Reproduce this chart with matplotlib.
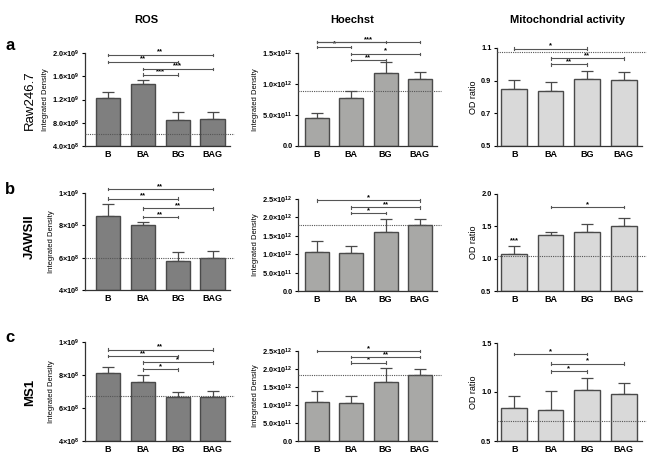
import matplotlib.pyplot as plt
from matplotlib.transforms import blended_transform_factory

plt.rcParams['font.family'] = 'Liberation Sans'
plt.rcParams['font.weight'] = 'bold'
plt.rcParams['mathtext.fontset'] = 'custom'
plt.rcParams['mathtext.rm'] = 'Liberation Sans:bold'
plt.rcParams['mathtext.it'] = 'Liberation Sans:bold'
plt.rcParams['mathtext.bf'] = 'Liberation Sans:bold'

groups = ['B', 'BA', 'BG', 'BAG']
cells = ['Raw246.7', 'JAWSII', 'MS1']
letters = ['a', 'b', 'c']
assays = ['ROS', 'Hoechst', 'Mitochondrial activity']

# means and (upper) error, one row per cell line
ros_mean = [[1.22e9, 1.47e9, 0.85e9, 0.87e9],
            [8.56e8, 8.0e8, 5.8e8, 6.0e8],
            [8.14e8, 7.6e8, 6.64e8, 6.64e8]]
ros_err = [[0.11e9, 0.07e9, 0.13e9, 0.12e9],
           [0.76e8, 0.2e8, 0.53e8, 0.41e8],
           [0.36e8, 0.4e8, 0.36e8, 0.38e8]]
hoe_mean = [[0.45e12, 0.77e12, 1.18e12, 1.075e12],
            [1.07e12, 1.02e12, 1.59e12, 1.79e12],
            [1.09e12, 1.05e12, 1.65e12, 1.83e12]]
hoe_err = [[0.08e12, 0.11e12, 0.17e12, 0.115e12],
           [0.28e12, 0.19e12, 0.37e12, 0.17e12],
           [0.30e12, 0.19e12, 0.37e12, 0.18e12]]
mito_mean = [[0.85, 0.836, 0.908, 0.902],
             [1.07, 1.36, 1.41, 1.50],
             [0.84, 0.82, 1.024, 0.983]]
mito_err = [[0.054, 0.054, 0.052, 0.053],
            [0.12, 0.05, 0.13, 0.13],
            [0.115, 0.19, 0.123, 0.113]]

# dotted reference level
ros_ref = [0.61e9, 6.0e8, 6.74e8]
hoe_ref = [0.89e12, 1.79e12, 1.83e12]
mito_ref = [1.075, 1.04, 0.70]

# significance brackets: (from, to, height, stars)
ros_sig = [[(0, 3, 1.97e9, '**'), (0, 2, 1.85e9, '**'), (1, 3, 1.73e9, '***'), (1, 2, 1.63e9, '***')],
           [(0, 3, 1.025e9, '**'), (0, 2, 9.65e8, '**'), (1, 3, 9.05e8, '**'), (1, 2, 8.5e8, '**')],
           [(0, 3, 9.54e8, '**'), (0, 2, 9.16e8, '**'), (1, 3, 8.76e8, '*'), (1, 2, 8.34e8, '*')]]
hoe_sig = [[(0, 3, 1.68e12, '***'), (0, 2, 1.68e12, ''), (0, 1, 1.60e12, '*'), (1, 3, 1.49e12, '*'), (1, 2, 1.39e12, '**')],
           [(0, 3, 2.46e12, '*'), (1, 3, 2.27e12, '**'), (1, 2, 2.11e12, '*')],
           [(0, 3, 2.5e12, '*'), (1, 3, 2.33e12, '**'), (1, 2, 2.18e12, '*')]]
mito_sig = [[(0, 2, 1.096, '*'), (1, 3, 1.036, '**'), (1, 2, 0.999, '**')],
            [(1, 3, 1.80, '*')],
            [(0, 2, 1.39, '*'), (1, 3, 1.29, '*'), (1, 2, 1.21, '*')]]
mito_star_b = '***'   # over B in JAWSII

ros_ticks = [[4e8, 8e8, 1.2e9, 1.6e9, 2.0e9], [4e8, 6e8, 8e8, 1e9], [4e8, 6e8, 8e8, 1e9]]
ros_labels = [[r'$4.0{\times}10^8$', r'$8.0{\times}10^8$', r'$1.2{\times}10^9$', r'$1.6{\times}10^9$', r'$2.0{\times}10^9$'],
              [r'$4{\times}10^8$', r'$6{\times}10^8$', r'$8{\times}10^8$', r'$1{\times}10^9$'],
              [r'$4{\times}10^8$', r'$6{\times}10^8$', r'$8{\times}10^8$', r'$1{\times}10^9$']]
hoe_ticks = [[0, 5e11, 1e12, 1.5e12], [0, 5e11, 1e12, 1.5e12, 2e12, 2.5e12], [0, 5e11, 1e12, 1.5e12, 2e12, 2.5e12]]
hoe_lab_all = ['0.0', r'$5.0{\times}10^{11}$', r'$1.0{\times}10^{12}$', r'$1.5{\times}10^{12}$',
               r'$2.0{\times}10^{12}$', r'$2.5{\times}10^{12}$']
mito_ticks = [[0.5, 0.7, 0.9, 1.1], [0.5, 1.0, 1.5, 2.0], [0.5, 1.0, 1.5]]

colors = ['#7f7f7f', '#a8a8a6', '#d9d9d9']
edge = '#4a4a4a'

W, H = 654, 458
fig = plt.figure(figsize=(W / 100, H / 100), dpi=100)

# panel boxes in pixels: (left, right, top, bottom)
cols_x = [(85, 230), (298, 437), (497, 642)]
rows_y = [[(53, 146), (53, 146), (48, 146)],
          [(193, 290), (199, 291), (194, 291)],
          [(342, 441), (351, 441), (343, 441)]]
x_off = [0.66, 0.55, 0.47]


def box(l, r, t, b):
    return [l / W, 1 - b / H, (r - l) / W, (b - t) / H]


for r in range(3):
    for c in range(3):
        l, rr = cols_x[c]
        t, b = rows_y[r][c]
        ax = fig.add_axes(box(l, rr, t, b))
        if c == 0:
            mean, err, ref, sig = ros_mean[r], ros_err[r], ros_ref[r], ros_sig[r]
            ticks, labs = ros_ticks[r], ros_labels[r]
            ylabel = 'Integrated Density'
        elif c == 1:
            mean, err, ref, sig = hoe_mean[r], hoe_err[r], hoe_ref[r], hoe_sig[r]
            ticks = hoe_ticks[r]
            labs = hoe_lab_all[:len(ticks)]
            ylabel = 'Integrated Density'
        else:
            mean, err, ref, sig = mito_mean[r], mito_err[r], mito_ref[r], mito_sig[r]
            ticks = mito_ticks[r]
            labs = ['%.1f' % v for v in ticks]
            ylabel = 'OD ratio'
        y0, y1 = ticks[0], ticks[-1]
        xs = range(len(groups))
        ax.bar(xs, [m - y0 for m in mean], bottom=y0, width=0.7, color=colors[c],
               edgecolor=edge, linewidth=1.0, zorder=2)
        ax.errorbar(xs, mean, yerr=[[0] * 4, err], fmt='none', ecolor=edge,
                    elinewidth=0.9, capsize=4.5, capthick=0.9, zorder=1)
        ax.set_xlim(-x_off[c], 3.5)
        ax.set_ylim(y0, y1)
        ax.set_yticks(ticks)
        ax.set_yticklabels(labs, fontsize=5.3)
        ax.set_xticks(list(xs))
        ax.set_xticklabels(groups, fontsize=6.5)
        ax.tick_params(axis='x', length=0, pad=3)
        ax.tick_params(axis='y', length=2.5, width=0.8, pad=1.5)
        for s in ['top', 'right']:
            ax.spines[s].set_visible(False)
        for s in ['left', 'bottom']:
            ax.spines[s].set_linewidth(0.9)
            ax.spines[s].set_color('#333333')
        ax.set_ylabel(ylabel, fontsize=5.5 if c < 2 else 6.5, labelpad=2)

        trans = blended_transform_factory(ax.transAxes, ax.transData)
        ax.plot([0, 1.03], [ref, ref], transform=trans, ls=(0, (1, 1)),
                color='#555555', lw=0.8, clip_on=False, zorder=3)

        span = y1 - y0
        for i, j, yv, stars in sig:
            ax.plot([i, j], [yv, yv], color='#555555', lw=0.8, clip_on=False, zorder=4)
            for xe in (i, j):
                ax.plot([xe, xe], [yv - 0.012 * span, yv + 0.012 * span], color='#555555',
                        lw=0.8, clip_on=False, zorder=4)
            if stars:
                ax.text((i + j) / 2, yv - 0.01 * span, stars, ha='center', va='bottom',
                        fontsize=5.5, clip_on=False)
        if c == 2 and r == 1:
            ax.text(0, mean[0] + err[0] + 0.02 * span, mito_star_b, ha='center',
                    va='bottom', fontsize=5.5)

# row labels
row_lab_y = [100, 237, 392]
letter_y = [46, 190, 338]
for r in range(3):
    fig.text(30 / W, 1 - row_lab_y[r] / H, cells[r], rotation=90, ha='center', va='center',
             fontsize=9.5, fontweight='normal' if r == 0 else 'bold')
    fig.text(5 / W, 1 - letter_y[r] / H, letters[r], ha='left', va='center',
             fontsize=12, fontweight='bold')

title_x = [146, 352, 567]
for c in range(3):
    fig.text(title_x[c] / W, 1 - 20 / H, assays[c], ha='center', va='center',
             fontsize=8, fontweight='bold')

fig.savefig('out.png', dpi=100, facecolor='white')
